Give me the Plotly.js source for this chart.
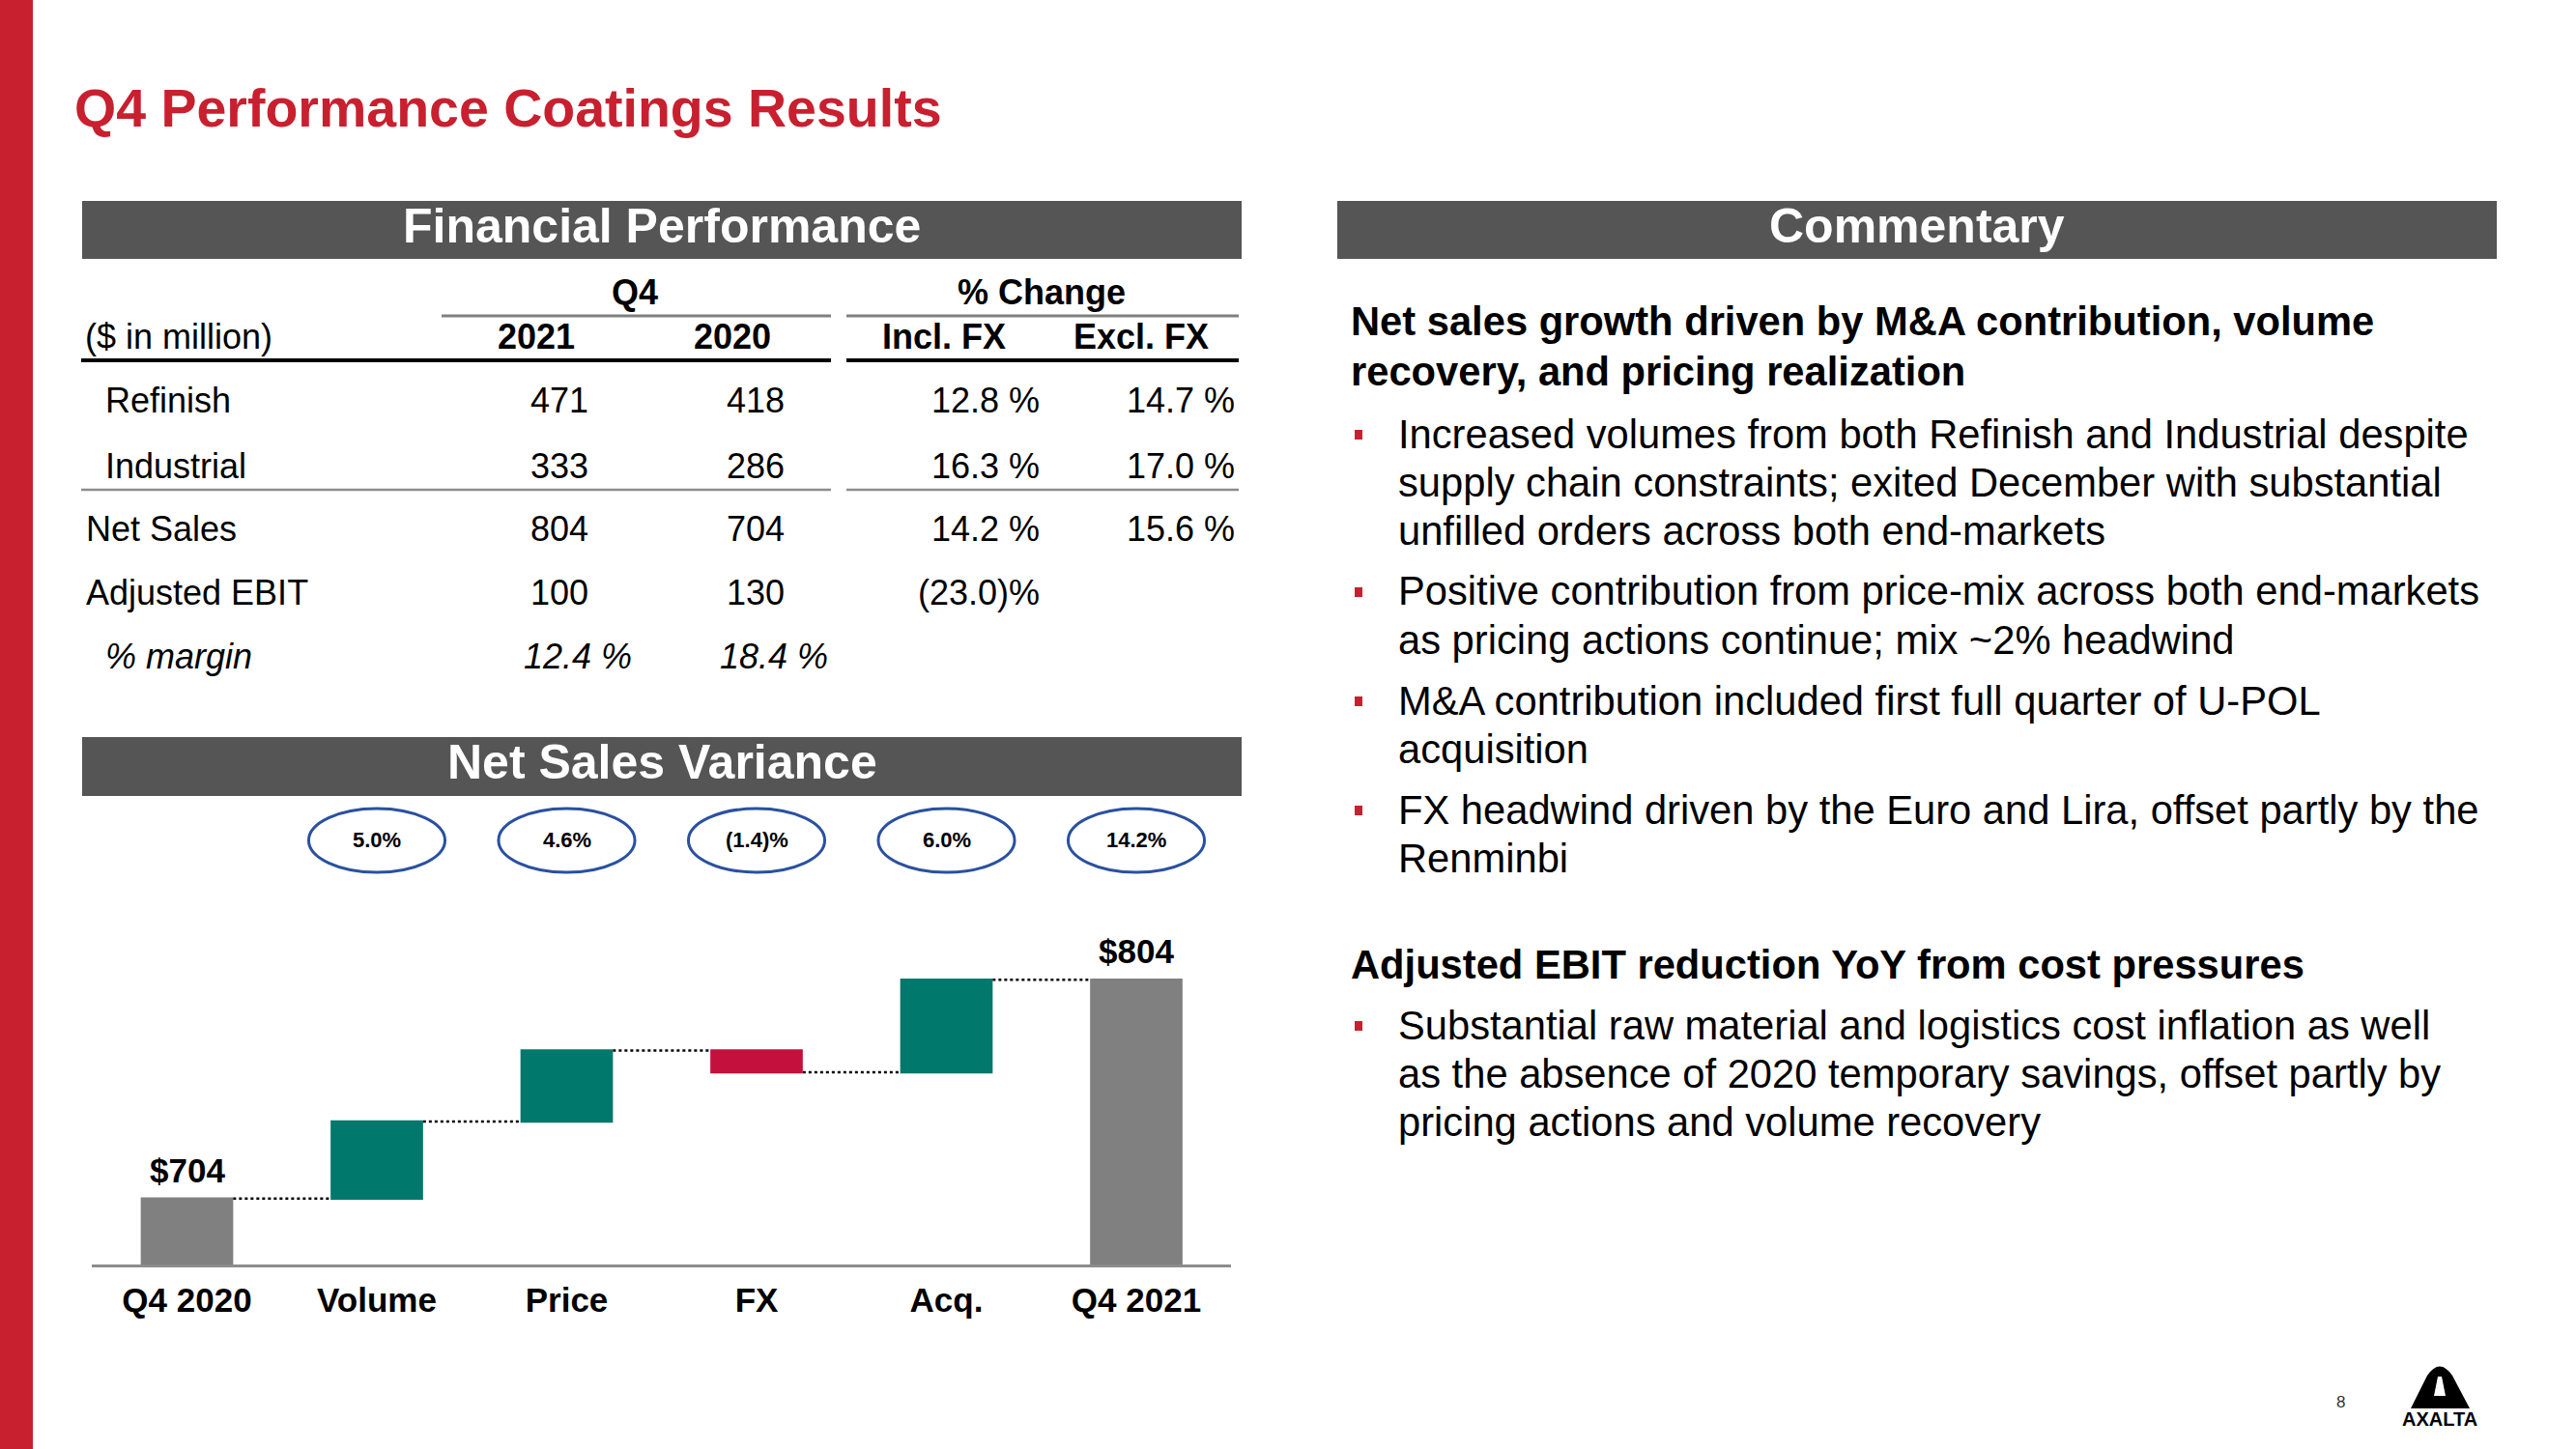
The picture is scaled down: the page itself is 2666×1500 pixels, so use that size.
<!DOCTYPE html>
<html>
<head>
<meta charset="utf-8">
<script src="https://cdn.plot.ly/plotly-3.0.1.min.js"></script>
<style>
  html, body { margin: 0; padding: 0; background: #ffffff; }
  #chart { width: 2666px; height: 1500px; }
</style>
</head>
<body>
<div id="chart"></div>
<script>
// ---------------- DATA ----------------
const slideTitle = "Q4 Performance Coatings Results";
const headerFinancial = "Financial Performance";
const headerVariance = "Net Sales Variance";
const headerCommentary = "Commentary";

// Financial performance table
const groupHeaders = ["Q4", "% Change"];
const columnHeaders = ["($ in million)", "2021", "2020", "Incl. FX", "Excl. FX"];
const rowLabels = ["Refinish", "Industrial", "Net Sales", "Adjusted EBIT", "% margin"];
const q4_2021 = ["471", "333", "804", "100", "12.4 %"];
const q4_2020 = ["418", "286", "704", "130", "18.4 %"];
const changeInclFX = ["12.8 %", "16.3 %", "14.2 %", "(23.0)%", ""];
const changeExclFX = ["14.7 %", "17.0 %", "15.6 %", "", ""];

// Net sales variance (waterfall, $ million)
const varianceCategories = ["Q4 2020", "Volume", "Price", "FX", "Acq.", "Q4 2021"];
const varianceMeasures = ["absolute", "relative", "relative", "relative", "relative", "total"];
const varianceValues = [704, 35.2, 32.4, -9.9, 42.2, 0];
const varianceBarLabels = ["$704", "", "", "", "", "$804"];
const variancePctCategories = ["Volume", "Price", "FX", "Acq.", "Q4 2021"];
const variancePctLabels = ["5.0%", "4.6%", "(1.4)%", "6.0%", "14.2%"];

// Commentary
const commentHeading1 = ["Net sales growth driven by M&A contribution, volume", "recovery, and pricing realization"];
const commentBullets1 = [
  ["Increased volumes from both Refinish and Industrial despite", "supply chain constraints; exited December with substantial", "unfilled orders across both end-markets"],
  ["Positive contribution from price-mix across both end-markets", "as pricing actions continue; mix ~2% headwind"],
  ["M&A contribution included first full quarter of U-POL", "acquisition"],
  ["FX headwind driven by the Euro and Lira, offset partly by the", "Renminbi"]
];
const commentHeading2 = ["Adjusted EBIT reduction YoY from cost pressures"];
const commentBullets2 = [
  ["Substantial raw material and logistics cost inflation as well", "as the absence of 2020 temporary savings, offset partly by", "pricing actions and volume recovery"]
];
const pageNumber = "8";
const logoText = "AXALTA";

// ---------------- LAYOUT HELPERS ----------------
const W = 2666, H = 1500;
const px = x => x / W;
const py = y => 1 - y / H;
const FONT = "Liberation Sans, Arial, Helvetica, sans-serif";
const RED = "#C8202F";
const HEADER_GRAY = "#555555";

const shapes = [];
const annotations = [];

function rectPx(x0, y0, x1, y1, color) {
  shapes.push({type: "rect", xref: "paper", yref: "paper", x0: px(x0), x1: px(x1), y0: py(y1), y1: py(y0),
    fillcolor: color, line: {width: 0}, layer: "below"});
}
function linePx(x0, y0, x1, y1, color, width) {
  shapes.push({type: "line", xref: "paper", yref: "paper", x0: px(x0), x1: px(x1), y0: py(y0), y1: py(y1),
    line: {color: color, width: width}});
}
function textPx(txt, x, y, opts) {
  opts = opts || {};
  annotations.push({
    text: txt, xref: "paper", yref: "paper", x: px(x), y: py(y),
    xanchor: opts.xanchor || "left", yanchor: "middle", showarrow: false,
    font: {family: FONT, size: opts.size || 36, color: opts.color || "#000000",
           weight: opts.bold ? "bold" : "normal", style: opts.italic ? "italic" : "normal"},
    borderpad: 0
  });
}

// Left red band + title
rectPx(0, 0, 34, H, RED);
textPx(slideTitle, 76, 112, {size: 55.5, bold: true, color: RED});

// Section headers
rectPx(85, 208, 1285, 268, HEADER_GRAY);
textPx(headerFinancial, 685, 234, {size: 50, bold: true, color: "#ffffff", xanchor: "center"});
rectPx(1384, 208, 2584, 268, HEADER_GRAY);
textPx(headerCommentary, 1984, 234, {size: 50, bold: true, color: "#ffffff", xanchor: "center"});
rectPx(85, 763, 1285, 824, HEADER_GRAY);
textPx(headerVariance, 685, 789, {size: 50, bold: true, color: "#ffffff", xanchor: "center"});

// ---------------- TABLE ----------------
const tblFont = 36;
textPx(groupHeaders[0], 657, 303, {size: tblFont, bold: true, xanchor: "center"});
textPx(groupHeaders[1], 1078, 303, {size: tblFont, bold: true, xanchor: "center"});
linePx(457, 327, 860, 327, "#808080", 3);
linePx(876, 327, 1282, 327, "#808080", 3);
textPx(columnHeaders[0], 87, 348, {size: tblFont});
textPx(columnHeaders[1], 555, 348, {size: tblFont, bold: true, xanchor: "center"});
textPx(columnHeaders[2], 758, 348, {size: tblFont, bold: true, xanchor: "center"});
textPx(columnHeaders[3], 977, 348, {size: tblFont, bold: true, xanchor: "center"});
textPx(columnHeaders[4], 1181, 348, {size: tblFont, bold: true, xanchor: "center"});
linePx(84, 373, 860, 373, "#000000", 4);
linePx(876, 373, 1282, 373, "#000000", 4);

const rowY = [415, 482, 547, 613, 679];
const rowIndent = [108, 108, 88, 88, 108];
rowLabels.forEach((lab, i) => {
  const italic = lab.startsWith("%");
  textPx(lab, rowIndent[i], rowY[i], {size: tblFont, italic: italic});
  const c1x = italic ? 655 : 610;
  const c2x = italic ? 858 : 813;
  textPx(q4_2021[i], c1x, rowY[i], {size: tblFont, italic: italic, xanchor: "right"});
  textPx(q4_2020[i], c2x, rowY[i], {size: tblFont, italic: italic, xanchor: "right"});
  if (changeInclFX[i]) textPx(changeInclFX[i], 1077, rowY[i], {size: tblFont, xanchor: "right"});
  if (changeExclFX[i]) textPx(changeExclFX[i], 1279, rowY[i], {size: tblFont, xanchor: "right"});
});
linePx(84, 507, 860, 507, "#8C8C8C", 2.5);
linePx(876, 507, 1282, 507, "#8C8C8C", 2.5);

// ---------------- COMMENTARY ----------------
const cFont = 41.7, cLine = 50, cGap = 13;
const cHeadX = 1397, cTextX = 1446, cBulletX = 1406;
let cy = 333;
commentHeading1.forEach(l => { textPx(l, cHeadX, cy, {size: cFont, bold: true}); cy += cLine + 1; });
cy += 14;
function drawBullets(list) {
  list.forEach(lines => {
    shapes.push({type: "rect", xref: "paper", yref: "paper",
      x0: px(cBulletX - 4), x1: px(cBulletX + 4), y0: py(cy + 6), y1: py(cy - 4),
      fillcolor: RED, line: {width: 0}});
    lines.forEach(l => { textPx(l, cTextX, cy, {size: cFont}); cy += cLine; });
    cy += cGap;
  });
}
drawBullets(commentBullets1);
cy = 998;
commentHeading2.forEach(l => { textPx(l, cHeadX, cy, {size: cFont, bold: true}); cy += cLine; });
cy += 13;
drawBullets(commentBullets2);

// Page number + logo
textPx(pageNumber, 2422, 1451, {size: 17, xanchor: "center", color: "#333333"});
function pathPx(pts) {
  return pts.map((p, i) => (i === 0 ? "M " : (p.q ? "Q " : "L ")) +
    (p.q ? px(p.q[0]) + "," + py(p.q[1]) + " " : "") + px(p[0]) + "," + py(p[1])).join(" ") + " Z";
}
shapes.push({type: "path", xref: "paper", yref: "paper", fillcolor: "#000000", line: {width: 0},
  path: pathPx([[2495, 1458], [2512, 1424], Object.assign([2538, 1424], {q: [2525, 1405]}), [2556, 1458]])});
shapes.push({type: "path", xref: "paper", yref: "paper", fillcolor: "#ffffff", line: {width: 0},
  path: pathPx([[2523, 1425], [2527, 1425], [2531, 1445], [2519, 1445]])});
textPx(logoText, 2525, 1469, {size: 20, bold: true, xanchor: "center"});

// ---------------- WATERFALL ----------------
// ellipses with percentage change
variancePctCategories.forEach((cat, k) => {
  const idx = varianceCategories.indexOf(cat);
  shapes.push({type: "circle", xref: "x", yref: "paper", x0: idx - 0.359, x1: idx + 0.359,
    y0: py(903), y1: py(837), line: {color: "#2A50A0", width: 3}, fillcolor: "rgba(0,0,0,0)"});
  annotations.push({text: variancePctLabels[k], xref: "x", yref: "paper", x: cat, y: py(870),
    xanchor: "center", yanchor: "middle", showarrow: false,
    font: {family: FONT, size: 22, color: "#000000", weight: "bold"}});
});

// value labels above total bars (positioned at the running total)
let running = 0;
varianceValues.forEach((v, i) => {
  if (varianceMeasures[i] === "absolute") running = v;
  else if (varianceMeasures[i] === "relative") running += v;
  if (varianceBarLabels[i]) {
    annotations.push({text: varianceBarLabels[i], xref: "x", yref: "y", x: varianceCategories[i], y: running,
      xanchor: "center", yanchor: "bottom", yshift: 9, showarrow: false, borderpad: 0,
      font: {family: FONT, size: 35, color: "#000000", weight: "bold"}});
  }
});

const trace = {
  type: "waterfall",
  x: varianceCategories,
  y: varianceValues,
  measure: varianceMeasures,
  increasing: {marker: {color: "#00786C"}},
  decreasing: {marker: {color: "#C4103C"}},
  totals: {marker: {color: "#808080"}},
  connector: {mode: "between", line: {color: "#000000", width: 2.5, dash: "dot"}},
  hoverinfo: "skip",
  showlegend: false
};

const layout = {
  width: W, height: H,
  margin: {l: 0, r: 0, t: 0, b: 0},
  paper_bgcolor: "#ffffff",
  plot_bgcolor: "rgba(0,0,0,0)",
  font: {family: FONT},
  showlegend: false,
  waterfallgap: 0.513,
  xaxis: {
    domain: [px(95.25), px(1274.25)],
    type: "category",
    range: [-0.5, 5.5],
    showline: true, linecolor: "#8C8C8C", linewidth: 2.5,
    ticks: "", showgrid: false, zeroline: false,
    ticklabelstandoff: 4,
    tickfont: {family: FONT, size: 35, color: "#000000", weight: "bold"},
    fixedrange: true
  },
  yaxis: {
    domain: [py(1309), py(932.4)],
    range: [673.9, 840],
    visible: false, showgrid: false, zeroline: false, fixedrange: true
  },
  shapes: shapes,
  annotations: annotations
};

Plotly.newPlot("chart", [trace], layout, {displayModeBar: false, staticPlot: true});
</script>
</body>
</html>
